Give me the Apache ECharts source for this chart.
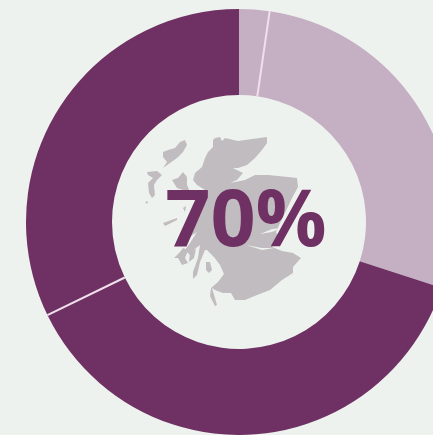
<!DOCTYPE html>
<html><head><meta charset="utf-8">
<style>html,body{margin:0;padding:0;background:#eef2ee;overflow:hidden}#c{width:433px;height:435px}</style>
<script src="https://cdn.jsdelivr.net/npm/echarts@6/dist/echarts.min.js"></script>
</head><body><div id="c"></div>
<script>
const categories = ['Light A', 'Light B', 'Dark A', 'Dark B'];
const values = [2.3, 27.7, 37.8, 32.2];
const colors = ['#c5afc3', '#c5afc3', '#6f3063', '#6f3063'];
const separatorAfter = [0, 2];
const centerLabel = '70%';

const CX = 239, CY = 222, R0 = 127, R1 = 213;
const total = values.reduce((a, b) => a + b, 0);
const cumulative = values.map((_, i) => values.slice(0, i + 1).reduce((a, b) => a + b, 0));

// Decorative silhouette behind the label
const mainland = [[213,140],[215,138],[220,137],[222,141],[225,138],[238,141],[252,139],[267,137],[267,143],[262,150],[255,158],[247,165],[238,168],[233,168],[243,173],[237,180],[230,183],[245,180],[255,175],[268,175],[288,177],[297,178],[298,187],[292,198],[285,213],[280,223],[276,232],[280,240],[272,247],[282,251],[293,253],[301,258],[293,267],[293,273],[282,280],[270,290],[257,295],[245,300],[235,300],[231,293],[223,293],[215,290],[212,288],[217,305],[215,306],[210,296],[211,288],[218,282],[224,274],[220,265],[214,257],[207,250],[205,250],[200,262],[197,275],[193,279],[193,272],[198,258],[200,245],[196,248],[190,255],[185,250],[190,243],[197,232],[188,238],[192,225],[198,210],[193,205],[202,198],[198,195],[205,190],[197,185],[193,180],[195,173],[202,167],[205,158],[208,152],[213,147]];
const islands = [
  [[163,152],[168,150],[175,148],[180,142],[185,140],[187,145],[183,152],[177,158],[170,163],[163,168],[167,162],[163,157]],
  [[147,172],[157,171],[162,175],[157,180],[154,185],[155,195],[152,198],[149,193],[148,183],[153,178],[148,175]],
  [[145,202],[148,201],[147,204]],
  [[172,180],[178,178],[183,172],[187,177],[187,185],[190,192],[183,190],[177,188]],
  [[163,223],[177,218],[177,220],[165,226]],
  [[183,208],[186,206],[185,212]],
  [[174,258],[180,252],[183,248],[188,250],[187,253],[185,258],[188,263],[182,265],[178,258]],
  [[190,253],[196,249],[194,258],[189,262]],
  [[206,262],[210,262],[212,270],[209,273],[206,270]]
];
const inlets = [
  [[260,234],[272,229],[282,228],[272,232]],
  [[246,245],[262,248],[274,248],[262,250]]
];
const shapeColor = '#c1bcc0';
const bgColor = '#eef2ee';

const chart = echarts.init(document.getElementById('c'), null, {renderer: 'canvas'});
chart.setOption({
  backgroundColor: bgColor,
  animation: false,
  graphic: [{
    type: 'group',
    children: [mainland].concat(islands).map(p => ({
      type: 'polygon', shape: {points: p}, style: {fill: shapeColor}
    })).concat(inlets.map(p => ({
      type: 'polygon', shape: {points: p}, style: {fill: bgColor}
    })))
  }, {
    type: 'text', x: 246, y: 223, z: 10,
    style: {text: centerLabel, fill: '#6f3063', font: 'bold 79px "Open Sans"', textAlign: 'center', textVerticalAlign: 'middle'}
  }],
  series: [{
    type: 'pie', silent: true, center: [CX, CY], radius: [R0, R1], startAngle: 90, clockwise: true,
    label: {show: false}, labelLine: {show: false},
    data: values.map((v, i) => ({name: categories[i], value: v, itemStyle: {color: colors[i]}}))
  }, {
    type: 'custom', silent: true, coordinateSystem: 'none', z: 5,
    data: separatorAfter.map(i => cumulative[i]),
    renderItem: (params, api) => {
      const a = api.value(0) / total * 2 * Math.PI;
      const s = Math.sin(a), c = Math.cos(a);
      return {type: 'line',
        shape: {x1: CX + R0 * s, y1: CY - R0 * c, x2: CX + R1 * s, y2: CY - R1 * c},
        style: {stroke: '#efe0ec', lineWidth: 2}};
    }
  }]
});
</script></body></html>
